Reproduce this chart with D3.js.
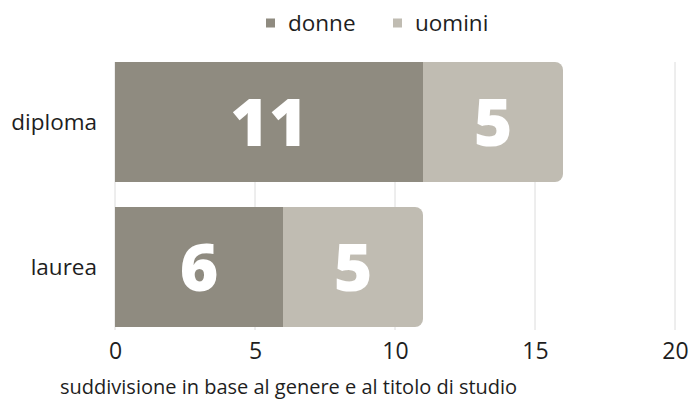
<!DOCTYPE html>
<html lang="it">
<head>
<meta charset="UTF-8">
<title>Titolo di studio</title>
<script src="https://d3js.org/d3.v7.min.js"></script>
<style>
  body { margin: 0; background: #fff; }
  text { font-family: "Open Sans", Lato, sans-serif; }
</style>
</head>
<body>
<div id="chart"></div>
<script>
  // dati
  var categorie = ["diploma", "laurea"];
  var serie = ["donne", "uomini"];
  var donne = [11, 6];
  var uomini = [5, 5];
  var tickValori = [0, 5, 10, 15, 20];
  var nota = "suddivisione in base al genere e al titolo di studio";

  var colori = { donne: "#8f8b80", uomini: "#c0bcb2" };

  var W = 690, H = 401;
  var svg = d3.select("#chart").append("svg")
      .attr("width", W).attr("height", H);

  var x = d3.scaleLinear().domain([0, 20]).range([115, 675]);
  var y = d3.scaleBand().domain(categorie)
      .range([49.5, 339.5])
      .paddingInner(25 / 145)
      .paddingOuter(12.5 / 145);

  var righe = categorie.map(function(c, i) {
    return { cat: c, donne: donne[i], uomini: uomini[i] };
  });
  var stack = d3.stack().keys(serie)(righe);

  // griglia
  var yTop = y(categorie[0]), yBot = y(categorie[categorie.length - 1]) + y.bandwidth();
  svg.append("g").selectAll("line").data(tickValori).join("line")
      .attr("x1", d => x(d)).attr("x2", d => x(d))
      .attr("y1", yTop).attr("y2", yBot + 3)
      .attr("stroke", "#dcdcdc").attr("stroke-width", 1);

  // barre: ultimo segmento con angoli destri arrotondati
  function segmento(x0, x1, y0, h, r) {
    if (!r) return "M" + x0 + "," + y0 + "H" + x1 + "V" + (y0 + h) + "H" + x0 + "Z";
    return "M" + x0 + "," + y0 + "H" + (x1 - r) +
      "A" + r + "," + r + " 0 0 1 " + x1 + "," + (y0 + r) +
      "V" + (y0 + h - r) +
      "A" + r + "," + r + " 0 0 1 " + (x1 - r) + "," + (y0 + h) +
      "H" + x0 + "Z";
  }

  stack.forEach(function(s, si) {
    var g = svg.append("g");
    g.selectAll("path").data(s).join("path")
      .attr("fill", colori[s.key])
      .attr("d", d => segmento(x(d[0]), x(d[1]), y(d.data.cat), y.bandwidth(),
                              si === stack.length - 1 ? 8 : 0));
    g.selectAll("text").data(s).join("text")
      .attr("x", d => (x(d[0]) + x(d[1])) / 2)
      .attr("y", d => y(d.data.cat) + y.bandwidth() / 2)
      .attr("dy", "0.36em")
      .attr("text-anchor", "middle")
      .attr("fill", "#fff")
      .attr("font-family", "Lato, sans-serif")
      .attr("font-weight", 900)
      .attr("font-size", 66)
      .text(d => d[1] - d[0]);
  });

  // etichette categorie
  svg.append("g").selectAll("text").data(categorie).join("text")
      .attr("x", 97)
      .attr("y", d => y(d) + y.bandwidth() / 2)
      .attr("dy", "0.35em")
      .attr("text-anchor", "end")
      .attr("fill", "#1e1e1e")
      .attr("font-size", 22.5)
      .text(d => d);

  // asse x
  var asse = svg.append("g")
      .attr("transform", "translate(0," + (yBot + 12) + ")")
      .call(d3.axisBottom(x).tickValues(tickValori).tickSize(0).tickPadding(0));
  asse.select(".domain").remove();
  asse.selectAll("text")
      .attr("font-size", 23)
      .attr("font-family", "'Open Sans', sans-serif")
      .attr("fill", "#1e1e1e")
      .attr("dy", "0.85em");

  // legenda
  var leg = svg.append("g").selectAll("g").data(serie).join("g")
      .attr("transform", (d, i) => "translate(" + [266, 393][i] + ",23)");
  leg.append("rect")
      .attr("x", 0).attr("y", -4.5).attr("width", 9).attr("height", 9)
      .attr("fill", d => colori[d]);
  leg.append("text")
      .attr("x", 22).attr("dy", "0.35em")
      .attr("font-size", 22.5)
      .attr("fill", "#1e1e1e")
      .text(d => d);

  // nota
  svg.append("text")
      .attr("x", 60).attr("y", 394)
      .attr("font-size", 20)
      .attr("fill", "#1e1e1e")
      .text(nota);
</script>
</body>
</html>
